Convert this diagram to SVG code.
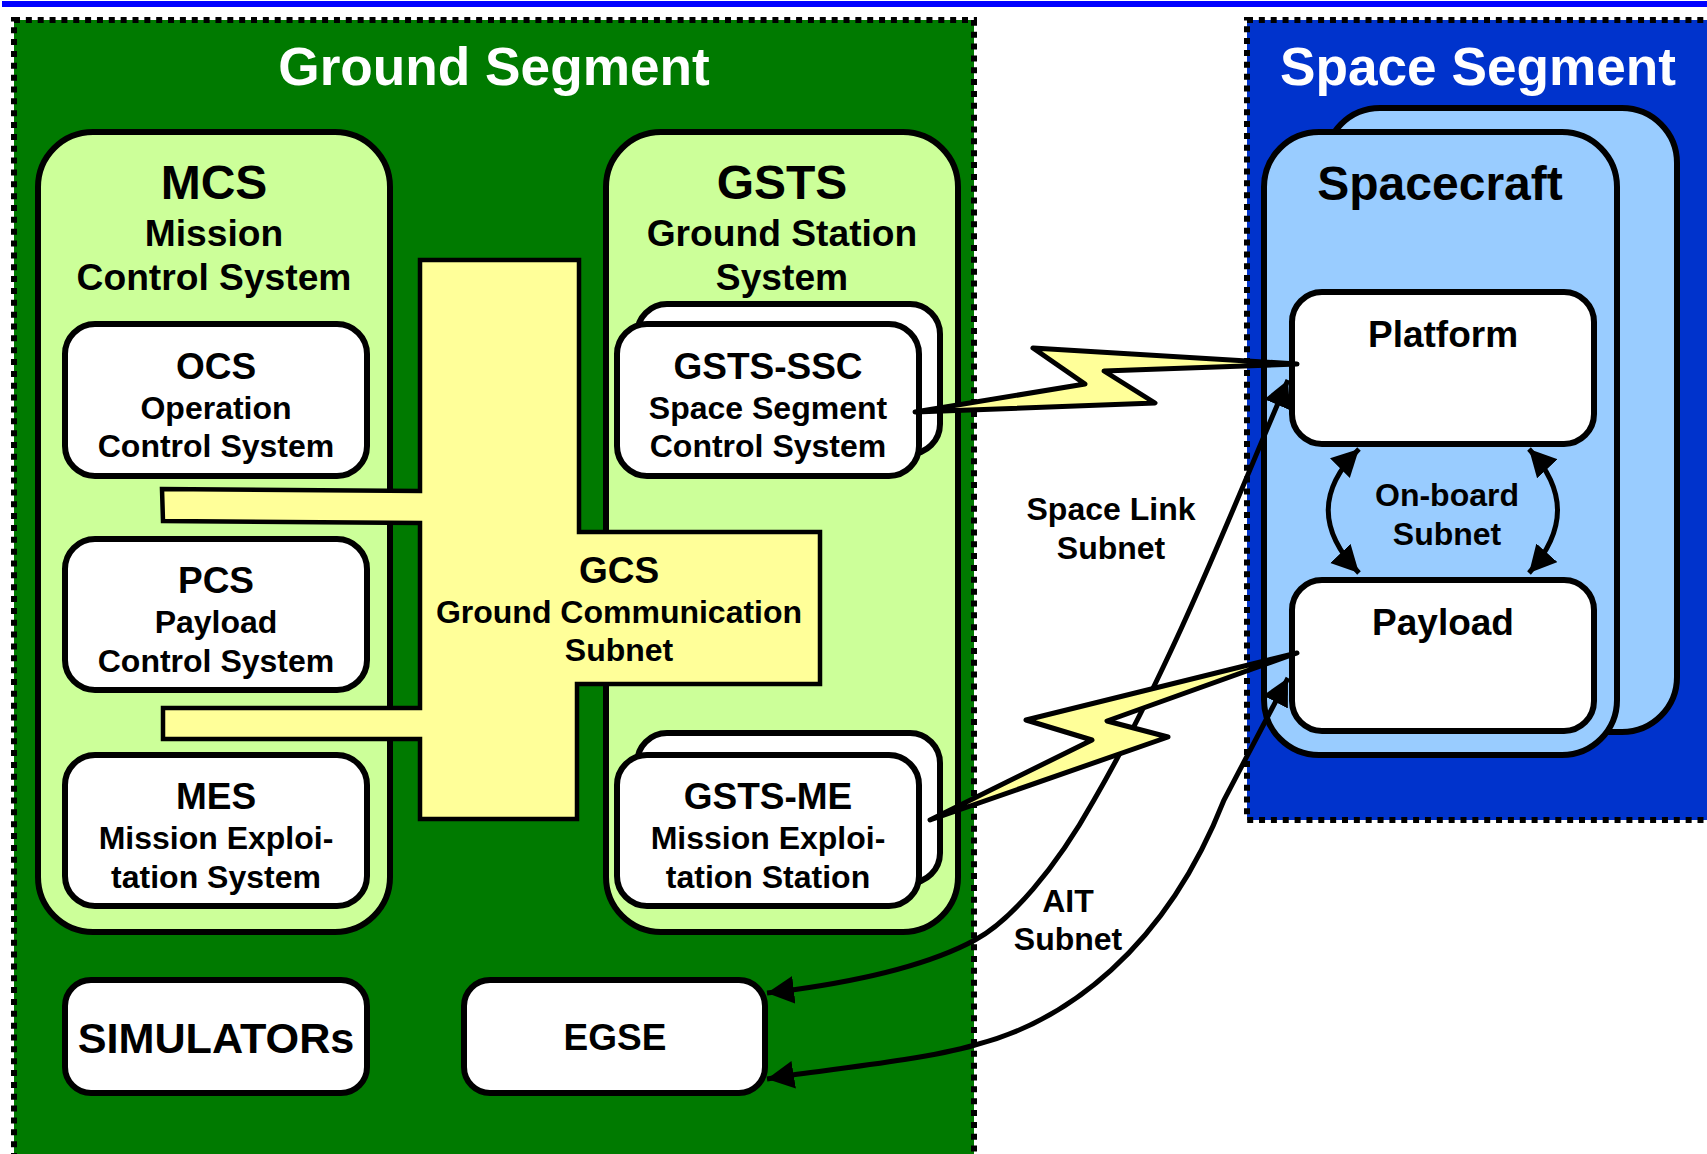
<svg xmlns="http://www.w3.org/2000/svg" width="1707" height="1154" viewBox="0 0 1707 1154">
<style>
text{font-family:"Liberation Sans",Arial,sans-serif;font-weight:bold;text-anchor:middle;fill:#000}
.seg{font-size:53.2px;fill:#fff}
.h1{font-size:48px}
.h2{font-size:37.2px}
.h3{font-size:37px}
.s{font-size:32px}
.l{font-size:32px}
.zone{stroke:#000;stroke-width:6;stroke-dasharray:6 5.85}
.box{stroke:#000;stroke-width:6;fill:#fff}
.big{stroke:#000;stroke-width:6}
.bolt{fill:#FFFF99;stroke:#000;stroke-width:5;stroke-linejoin:round}
.wire{fill:none;stroke:#000;stroke-width:5}
</style>
<defs>
<marker id="ah" markerUnits="userSpaceOnUse" markerWidth="30" markerHeight="30" refX="27" refY="14" orient="auto-start-reverse"><path d="M0,0 L27,14 L0,28 Z" fill="#000"/></marker>
</defs>
<rect id="topbar" x="2" y="1" width="1705" height="6" fill="#0000FF"/>
<g id="ground-segment"><rect class="zone" x="14" y="20" width="960" height="1150" fill="#007A00"/><text class="seg" x="494" y="85">Ground Segment</text></g>
<g id="space-segment"><rect class="zone" x="1247" y="20" width="480" height="800" fill="#0033CC"/><text class="seg" x="1478" y="85">Space Segment</text></g>
<g id="mcs"><rect class="big" x="38" y="132" width="352" height="800" rx="55" fill="#CCFF99"/><text class="h1" x="214" y="199">MCS</text><text class="h2" x="214" y="246">Mission</text><text class="h2" x="214" y="290">Control System</text></g>
<g id="gsts"><rect class="big" x="606" y="132" width="352" height="800" rx="55" fill="#CCFF99"/><text class="h1" x="782" y="199">GSTS</text><text class="h2" x="782" y="246">Ground Station</text><text class="h2" x="782" y="290">System</text></g>
<g id="ocs"><rect class="box" x="65" y="324" width="302" height="152" rx="30"/><text class="h3" x="216" y="379">OCS</text><text class="s" x="216" y="419">Operation</text><text class="s" x="216" y="457">Control System</text></g>
<g id="pcs"><rect class="box" x="65" y="539" width="302" height="151" rx="30"/><text class="h3" x="216" y="593">PCS</text><text class="s" x="216" y="633">Payload</text><text class="s" x="216" y="672">Control System</text></g>
<g id="mes"><rect class="box" x="65" y="755" width="302" height="151" rx="30"/><text class="h3" x="216" y="809">MES</text><text class="s" x="216" y="849">Mission Exploi-</text><text class="s" x="216" y="888">tation System</text></g>
<g id="simulators"><rect class="box" x="65" y="980" width="302" height="113" rx="26"/><text x="216" y="1053" style="font-size:43.2px">SIMULATORs</text></g>
<g id="egse"><rect class="box" x="464" y="980" width="301" height="113" rx="26"/><text x="615" y="1050" style="font-size:37px">EGSE</text></g>
<g id="gsts-ssc"><rect class="box" x="637" y="304" width="303" height="150" rx="30"/><rect class="box" x="617" y="324" width="302" height="152" rx="30"/><text class="h3" x="768" y="379">GSTS-SSC</text><text class="s" x="768" y="419">Space Segment</text><text class="s" x="768" y="457">Control System</text></g>
<g id="gsts-me"><rect class="box" x="637" y="733" width="303" height="150" rx="30"/><rect class="box" x="617" y="755" width="302" height="151" rx="30"/><text class="h3" x="768" y="809">GSTS-ME</text><text class="s" x="768" y="849">Mission Exploi-</text><text class="s" x="768" y="888">tation Station</text></g>
<g id="gcs"><polygon points="420,260 579,260 579,532 820,532 820,684 577,684 577,819 420,819 420,739 163,739 163,708 420,708 420,523 163,521 162,489 420,491" fill="#FFFF99" stroke="#000" stroke-width="4.5"/><text class="h3" x="619" y="583">GCS</text><text class="s" x="619" y="623">Ground Communication</text><text class="s" x="619" y="661">Subnet</text></g>
<g id="spacecraft"><rect class="big" x="1325" y="108" width="352" height="624" rx="55" fill="#99CCFF"/><rect class="big" x="1264" y="132" width="353" height="623" rx="55" fill="#99CCFF"/><text class="h1" x="1440" y="200">Spacecraft</text></g>
<g id="platform"><rect class="box" x="1292" y="292" width="302" height="152" rx="30"/><text class="h3" x="1443" y="347">Platform</text></g>
<g id="payload"><rect class="box" x="1292" y="580" width="302" height="151" rx="30"/><text class="h3" x="1443" y="635">Payload</text></g>
<g id="connectors">
<path class="wire" marker-start="url(#ah)" marker-end="url(#ah)" d="M767,993 L792,990 C850,982 925,967 975,940 C1010,921 1055,870 1094,800 C1175,660 1238,495 1288,380"/>
<path class="wire" marker-start="url(#ah)" marker-end="url(#ah)" d="M767,1079 L792,1075 C860,1066 930,1058 975,1045 C1065,1022 1165,950 1224,800 L1288,678"/>
<path class="wire" marker-start="url(#ah)" marker-end="url(#ah)" d="M1359,449 C1318,490 1318,530 1359,573"/>
<path class="wire" marker-start="url(#ah)" marker-end="url(#ah)" d="M1529,449 C1567,490 1567,530 1529,573"/>
<polygon class="bolt" points="1033,348 1297,364 1104,371 1155,403 915,412 1085,384"/>
<polygon class="bolt" points="1026,720 1297,653 1107,721 1168,737 930,820 1092,740"/>
</g>
<g id="labels">
<text class="l" x="1111" y="520">Space Link</text><text class="l" x="1111" y="559">Subnet</text>
<text class="l" x="1068" y="912">AIT</text><text class="l" x="1068" y="950">Subnet</text>
<text class="l" x="1447" y="506">On-board</text><text class="l" x="1447" y="545">Subnet</text>
</g>
</svg>
